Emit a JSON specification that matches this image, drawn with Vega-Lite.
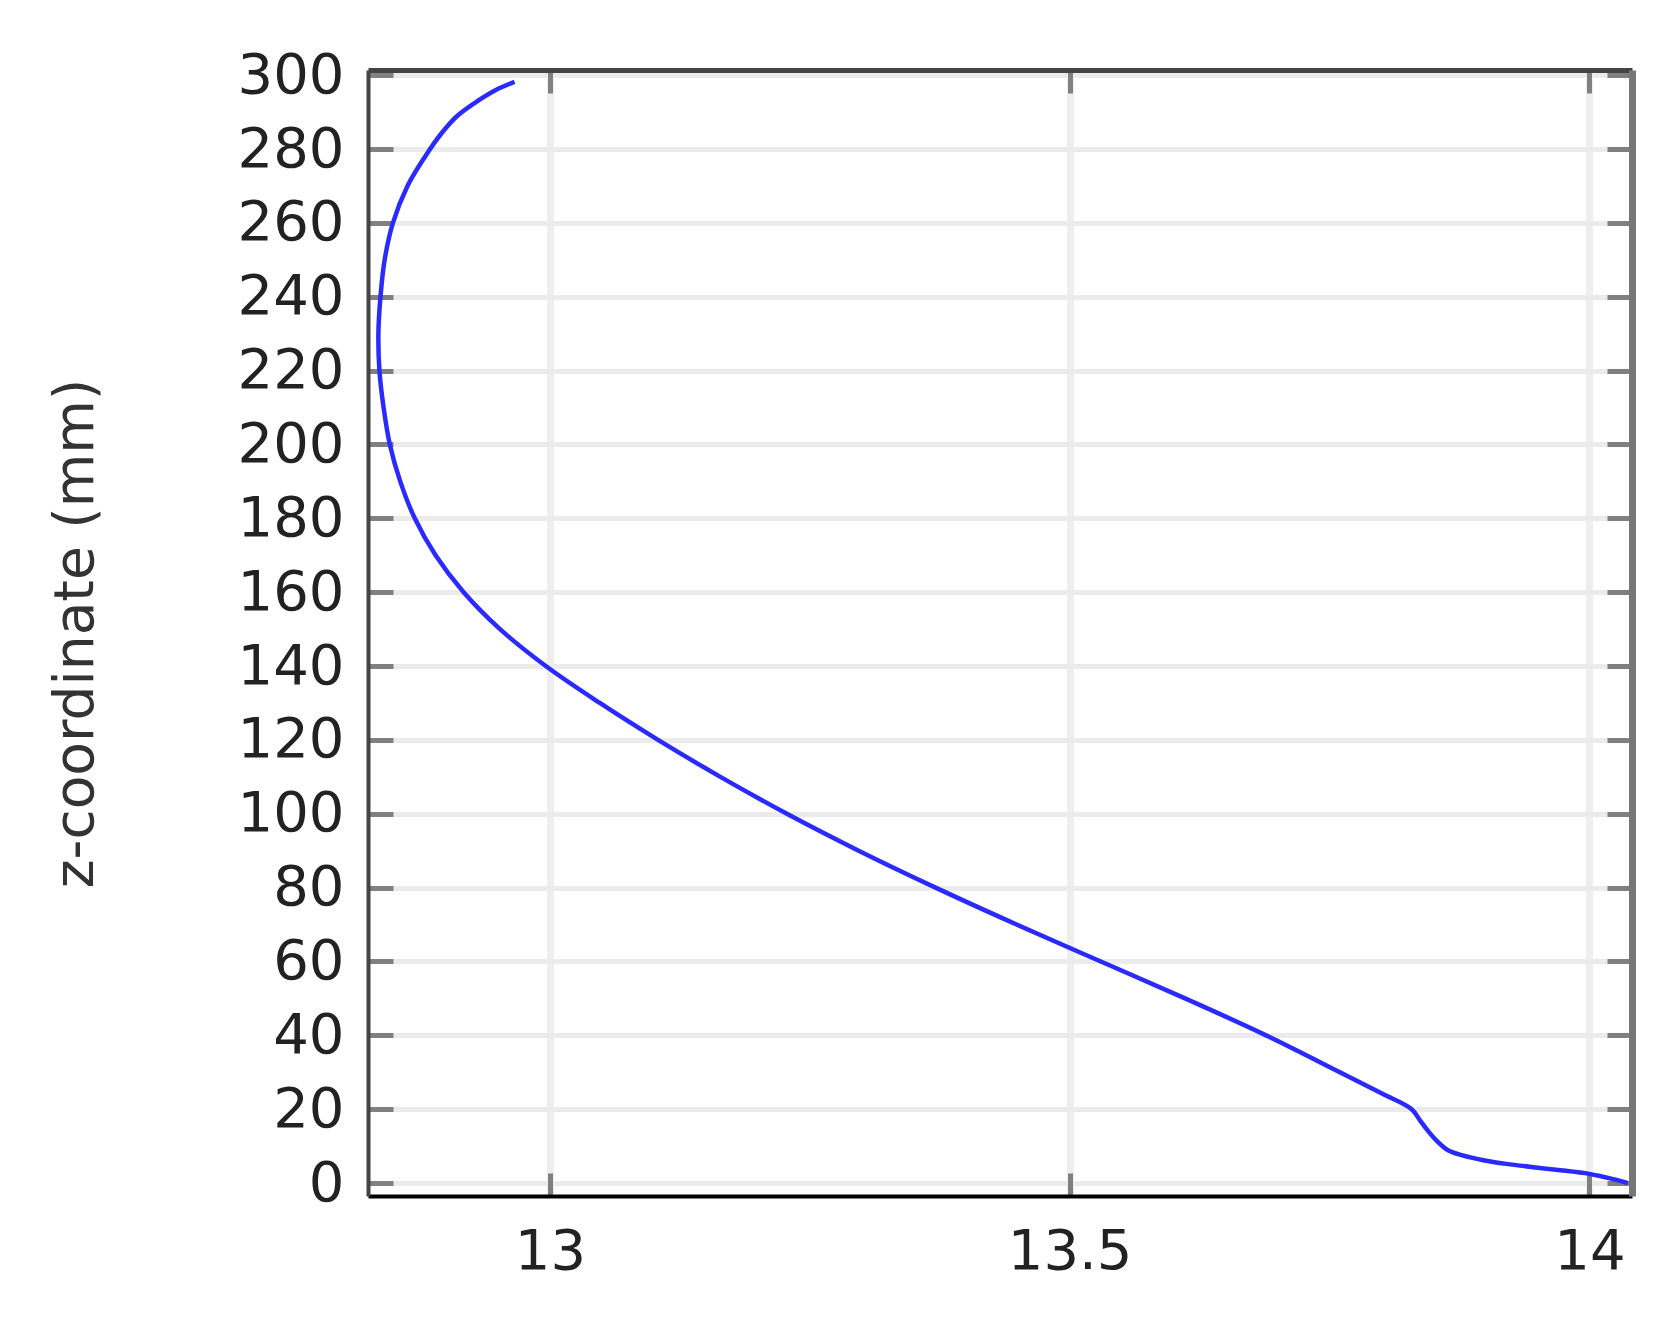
{
  "$schema": "https://vega.github.io/schema/vega-lite/v6.json",
  "width": 1264,
  "height": 1126,
  "autosize": "none",
  "padding": {"left": 368, "top": 70, "right": 44, "bottom": 132},
  "background": "white",
  "config": {"view": {"stroke": null}},
  "data": {
    "values": [
      {"z": 298.2, "x": 12.966},
      {"z": 296.0, "x": 12.948},
      {"z": 293.3, "x": 12.932},
      {"z": 289.0, "x": 12.911},
      {"z": 284.0, "x": 12.895},
      {"z": 278.0, "x": 12.880},
      {"z": 270.0, "x": 12.863},
      {"z": 260.0, "x": 12.849},
      {"z": 250.0, "x": 12.841},
      {"z": 240.0, "x": 12.837},
      {"z": 230.0, "x": 12.835},
      {"z": 220.0, "x": 12.836},
      {"z": 210.0, "x": 12.840},
      {"z": 200.0, "x": 12.846},
      {"z": 190.0, "x": 12.856},
      {"z": 180.0, "x": 12.870},
      {"z": 170.0, "x": 12.890},
      {"z": 160.0, "x": 12.917},
      {"z": 150.0, "x": 12.952},
      {"z": 140.0, "x": 12.996},
      {"z": 130.0, "x": 13.048},
      {"z": 120.0, "x": 13.104},
      {"z": 110.0, "x": 13.164},
      {"z": 100.0, "x": 13.228},
      {"z": 90.0, "x": 13.297},
      {"z": 80.0, "x": 13.371},
      {"z": 70.0, "x": 13.449},
      {"z": 60.0, "x": 13.530},
      {"z": 50.0, "x": 13.611},
      {"z": 40.0, "x": 13.689},
      {"z": 30.0, "x": 13.760},
      {"z": 24.3, "x": 13.800},
      {"z": 20.0, "x": 13.829},
      {"z": 17.0, "x": 13.837},
      {"z": 14.4, "x": 13.844},
      {"z": 11.5, "x": 13.853},
      {"z": 8.9, "x": 13.864},
      {"z": 7.5, "x": 13.878},
      {"z": 6.2, "x": 13.898},
      {"z": 5.2, "x": 13.920},
      {"z": 4.3, "x": 13.946},
      {"z": 3.5, "x": 13.972},
      {"z": 2.7, "x": 13.996},
      {"z": 1.8, "x": 14.012},
      {"z": 0.8, "x": 14.027},
      {"z": 0.0, "x": 14.037}
    ]
  },
  "layer": [
    {
      "mark": {"type": "line", "color": "#2a2aff", "strokeWidth": 4.5, "interpolate": "catmull-rom"},
      "encoding": {
        "x": {
          "field": "x", "type": "quantitative",
          "scale": {"domain": [12.825, 14.041], "nice": false, "zero": false},
          "axis": {
            "orient": "bottom", "title": null, "values": [13, 13.5, 14], "format": "~g",
            "labelFont": "DejaVu Sans", "labelFontSize": 56, "labelColor": "#222",
            "labelPadding": 51, "labelFlush": false,
            "tickSize": -23, "tickWidth": 5, "tickColor": "#808080",
            "domainColor": "#000000", "domainWidth": 4,
            "grid": true, "gridColor": "#eeeeee", "gridWidth": 7
          }
        },
        "y": {
          "field": "z", "type": "quantitative",
          "scale": {"domain": [-3.5, 301.4], "nice": false, "zero": false},
          "axis": {
            "orient": "left", "title": "z-coordinate (mm)",
            "values": [0, 20, 40, 60, 80, 100, 120, 140, 160, 180, 200, 220, 240, 260, 280, 300],
            "format": "d",
            "labelFont": "DejaVu Sans", "labelFontSize": 56, "labelColor": "#222",
            "labelPadding": 49, "labelFlush": false,
            "tickSize": -25, "tickWidth": 5, "tickColor": "#808080",
            "domainColor": "#444444", "domainWidth": 4,
            "grid": true, "gridColor": "#ebebeb", "gridWidth": 5,
            "titleFont": "DejaVu Sans", "titleFontSize": 55, "titleFontWeight": "normal",
            "titleColor": "#333", "titleAngle": -90, "titleX": -293, "titleY": 563,
            "titleBaseline": "middle", "titleAlign": "center"
          }
        },
        "order": {"field": "z", "type": "quantitative"}
      }
    },
    {
      "mark": {"type": "line", "opacity": 0},
      "encoding": {
        "x": {
          "field": "x", "type": "quantitative",
          "axis": {
            "orient": "top", "title": null, "values": [13, 13.5, 14], "labels": false,
            "tickSize": -23, "tickWidth": 5, "tickColor": "#808080",
            "domainColor": "#444444", "domainWidth": 5, "grid": false
          }
        },
        "y": {
          "field": "z", "type": "quantitative",
          "axis": {
            "orient": "right", "title": null,
            "values": [0, 20, 40, 60, 80, 100, 120, 140, 160, 180, 200, 220, 240, 260, 280, 300],
            "labels": false,
            "tickSize": -25, "tickWidth": 5, "tickColor": "#808080",
            "domainColor": "#777777", "domainWidth": 7, "grid": false
          }
        },
        "order": {"field": "z", "type": "quantitative"}
      }
    }
  ],
  "resolve": {"axis": {"x": "independent", "y": "independent"}}
}
